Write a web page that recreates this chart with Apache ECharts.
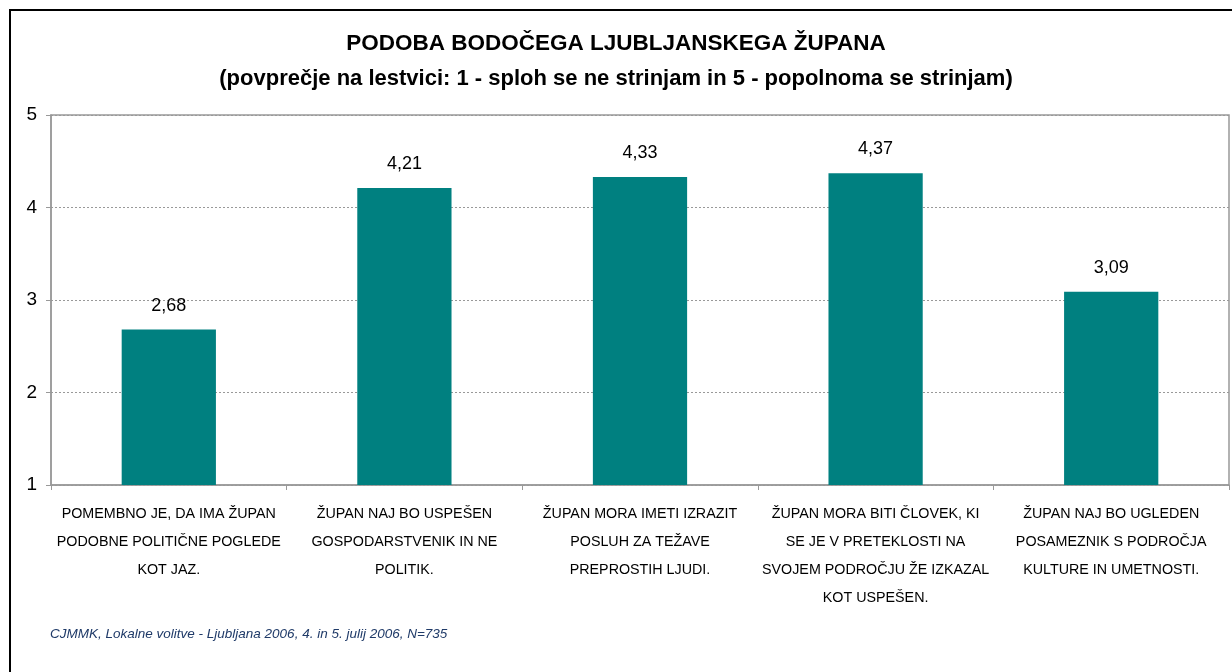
<!DOCTYPE html>
<html>
<head>
<meta charset="utf-8">
<script src="https://cdn.jsdelivr.net/npm/echarts@6/dist/echarts.min.js"></script>
<style>
  html, body { margin: 0; padding: 0; background: #fff; }
  #chart { width: 1232px; height: 672px; }
</style>
</head>
<body>
<div id="chart"></div>
<script>
// podatki
const categories = [
  'POMEMBNO JE, DA IMA ŽUPAN\nPODOBNE POLITIČNE POGLEDE\nKOT JAZ.',
  'ŽUPAN NAJ BO USPEŠEN\nGOSPODARSTVENIK IN NE\nPOLITIK.',
  'ŽUPAN MORA IMETI IZRAZIT\nPOSLUH ZA TEŽAVE\nPREPROSTIH LJUDI.',
  'ŽUPAN MORA BITI ČLOVEK, KI\nSE JE V PRETEKLOSTI NA\nSVOJEM PODROČJU ŽE IZKAZAL\nKOT USPEŠEN.',
  'ŽUPAN NAJ BO UGLEDEN\nPOSAMEZNIK S PODROČJA\nKULTURE IN UMETNOSTI.'
];
const values = [2.68, 4.21, 4.33, 4.37, 3.09];
const yTicks = [1, 2, 3, 4, 5];

const titleText = 'PODOBA BODOČEGA LJUBLJANSKEGA ŽUPANA';
const subtitleText = '(povprečje na lestvici: 1 - sploh se ne strinjam in 5 - popolnoma se strinjam)';
const sourceText = 'CJMMK, Lokalne volitve - Ljubljana 2006, 4. in 5. julij 2006, N=735';

const chart = echarts.init(document.getElementById('chart'));

const option = {
  backgroundColor: '#fff',
  animation: false,
  title: [
    {
      text: titleText,
      left: 'center',
      top: 27,
      textStyle: {
        fontFamily: 'Liberation Sans, Arial, sans-serif',
        fontSize: 22.5, fontWeight: 'bold', color: '#000'
      }
    },
    {
      text: subtitleText,
      left: 'center',
      top: 63,
      textStyle: {
        fontFamily: 'Liberation Sans, Arial, sans-serif',
        fontSize: 22, fontWeight: 'bold', color: '#000'
      }
    }
  ],
  graphic: [
    // okvir grafa
    {
      type: 'polyline',
      shape: { points: [[10, 672], [10, 10], [1232, 10]] },
      style: { stroke: '#000', lineWidth: 2, fill: null }
    },
    {
      type: 'text',
      left: 50,
      top: 627,
      style: {
        text: sourceText,
        font: 'italic 13.5px Liberation Sans, Arial, sans-serif',
        fill: '#1f3a68'
      }
    }
  ],
  grid: {
    left: 51,
    right: 3,
    top: 115,
    bottom: 187,
    show: true,
    borderColor: '#999',
    borderWidth: 1.5
  },
  xAxis: {
    type: 'category',
    data: categories,
    axisLine: { lineStyle: { color: '#999', width: 1.5 } },
    axisTick: { show: true, alignWithLabel: false, length: 5, lineStyle: { color: '#999' } },
    axisLabel: {
      interval: 0,
      margin: 15,
      color: '#000',
      fontFamily: 'Liberation Sans, Arial, sans-serif',
      fontSize: 14.3,
      lineHeight: 28
    }
  },
  yAxis: {
    type: 'value',
    min: yTicks[0],
    max: yTicks[yTicks.length - 1],
    interval: 1,
    axisLine: { show: true, lineStyle: { color: '#999', width: 1.5 } },
    axisTick: { show: true, length: 5, lineStyle: { color: '#999' } },
    axisLabel: {
      margin: 14,
      color: '#000',
      fontFamily: 'Liberation Sans, Arial, sans-serif',
      fontSize: 19
    },
    splitLine: { lineStyle: { color: '#999', type: [2, 2], width: 1 } }
  },
  series: [
    {
      type: 'bar',
      data: values,
      barWidth: '40%',
      itemStyle: { color: '#008080' },
      label: {
        show: true,
        position: 'top',
        distance: 15,
        color: '#000',
        fontFamily: 'Liberation Sans, Arial, sans-serif',
        fontSize: 18,
        formatter: p => p.value.toFixed(2).replace('.', ',')
      }
    }
  ]
};

chart.setOption(option);
</script>
</body>
</html>
